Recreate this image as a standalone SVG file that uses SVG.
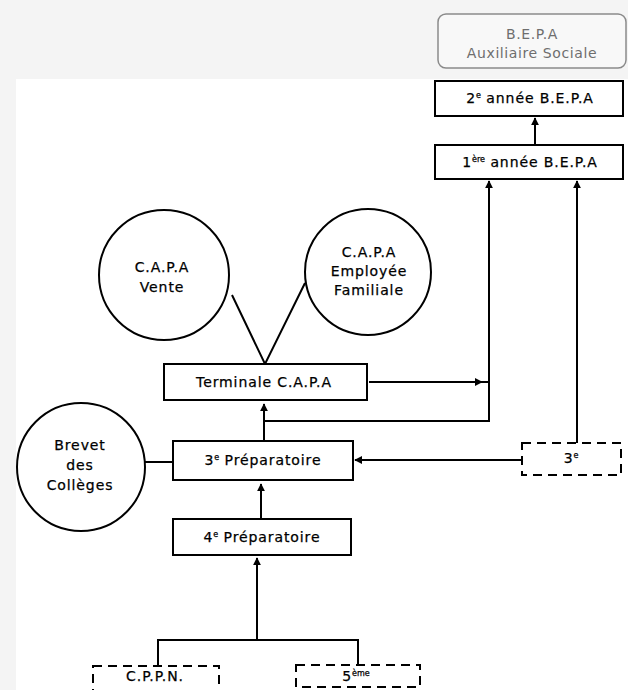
<svg xmlns="http://www.w3.org/2000/svg" width="628" height="690" viewBox="0 0 628 690">
<style>
.bx{fill:#fff;stroke:#000;stroke-width:2}
.ds{fill:#fff;stroke:#000;stroke-width:2;stroke-dasharray:9,6}
.cl{fill:#fff;stroke:#000;stroke-width:2}
.t{font-family:"DejaVu Sans","Liberation Sans",sans-serif;font-size:14px;fill:#000;text-anchor:middle;letter-spacing:0.9px;stroke:#000;stroke-width:0.25}
.g{font-family:"DejaVu Sans","Liberation Sans",sans-serif;font-size:14px;fill:#6e6e6e;text-anchor:middle;letter-spacing:0.6px}
.ln{fill:none;stroke:#000;stroke-width:2}
.sup{font-size:8px;letter-spacing:0}
</style>
<defs>
<marker id="ah" viewBox="0 0 10 10" refX="9" refY="5" markerWidth="4" markerHeight="4" orient="auto" markerUnits="strokeWidth">
<path d="M0,0 L10,5 L0,10 z" fill="#000"/>
</marker>
</defs>
<rect x="0" y="0" width="628" height="690" fill="#f4f4f4"/>
<rect x="16" y="79" width="612" height="611" fill="#fff"/>

<g id="connectors">
<path class="ln" d="M535,145 V118" marker-end="url(#ah)"/>
<path class="ln" d="M264,421 H489 V181" marker-end="url(#ah)"/>
<path class="ln" d="M489,382 H369"/>
<path class="ln" d="M410,382 H482" marker-end="url(#ah)"/>
<path class="ln" d="M577,443 V181" marker-end="url(#ah)"/>
<path class="ln" d="M264,440 V404" marker-end="url(#ah)"/>
<path class="ln" d="M522,460 H355" marker-end="url(#ah)"/>
<path class="ln" d="M145,462 H173"/>
<path class="ln" d="M261,519 V484" marker-end="url(#ah)"/>
<path class="ln" d="M257,640 V558" marker-end="url(#ah)"/>
<path class="ln" d="M158,666 V640 H358 V665"/>
<path class="ln" d="M232,295 L265,364 L305,283"/>
</g>

<g id="bepa-aux">
<rect x="438" y="14" width="188" height="54" rx="8" fill="#f8f8f8" stroke="#8a8a8a" stroke-width="1.5"/>
<text class="g" x="532" y="39">B.E.P.A</text>
<text class="g" x="532" y="58">Auxiliaire Sociale</text>
</g>

<g id="bepa2">
<rect class="bx" x="435" y="81" width="188" height="35"/>
<text class="t" x="530" y="103">2<tspan class="sup" dy="-5">e</tspan><tspan dy="5"> année B.E.P.A</tspan></text>
</g>

<g id="bepa1">
<rect class="bx" x="435" y="145" width="188" height="34"/>
<text class="t" x="530" y="167">1<tspan class="sup" dy="-5">ère</tspan><tspan dy="5"> année B.E.P.A</tspan></text>
</g>

<g id="capa-vente">
<circle class="cl" cx="164" cy="275" r="65"/>
<text class="t" x="162" y="272">C.A.P.A</text>
<text class="t" x="162" y="292">Vente</text>
</g>

<g id="capa-employee">
<circle class="cl" cx="368" cy="272" r="63"/>
<text class="t" x="369" y="257">C.A.P.A</text>
<text class="t" x="369" y="276">Employée</text>
<text class="t" x="369" y="295">Familiale</text>
</g>

<g id="terminale">
<rect class="bx" x="164" y="364" width="203" height="36"/>
<text class="t" x="264" y="387">Terminale C.A.P.A</text>
</g>

<g id="brevet">
<circle class="cl" cx="81" cy="467" r="64"/>
<text class="t" x="80" y="450">Brevet</text>
<text class="t" x="80" y="470">des</text>
<text class="t" x="80" y="490">Collèges</text>
</g>

<g id="prep3">
<rect class="bx" x="173" y="441" width="180" height="39"/>
<text class="t" x="263" y="465">3<tspan class="sup" dy="-5">e</tspan><tspan dy="5"> Préparatoire</tspan></text>
</g>

<g id="troisieme">
<rect class="ds" x="522" y="443" width="99" height="32"/>
<text class="t" x="571" y="463">3<tspan class="sup" dy="-5">e</tspan></text>
</g>

<g id="prep4">
<rect class="bx" x="173" y="519" width="178" height="36"/>
<text class="t" x="262" y="542">4<tspan class="sup" dy="-5">e</tspan><tspan dy="5"> Préparatoire</tspan></text>
</g>

<g id="cppn">
<rect class="ds" x="93" y="666" width="126" height="40"/>
<text class="t" x="155" y="681">C.P.P.N.</text>
</g>

<g id="cinquieme">
<rect class="ds" x="296" y="665" width="124" height="22"/>
<text class="t" x="356" y="681">5<tspan class="sup" dy="-5">ème</tspan></text>
</g>
</svg>
